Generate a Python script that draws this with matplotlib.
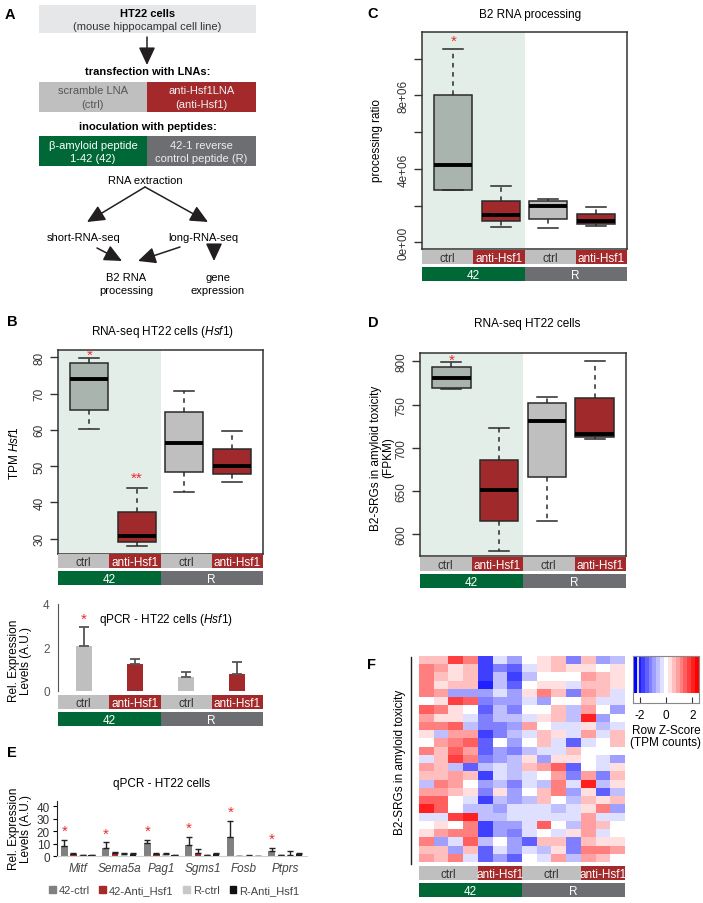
import matplotlib.pyplot as plt
import numpy as np
from matplotlib.colors import LinearSegmentedColormap
from matplotlib.patches import Rectangle, Patch

plt.rcParams['font.family'] = ['Liberation Sans', 'DejaVu Sans']
plt.rcParams['mathtext.fontset'] = 'custom'
plt.rcParams['mathtext.rm'] = 'Liberation Sans'
plt.rcParams['mathtext.it'] = 'Liberation Sans:italic'

# ---- data ----
conds = ['ctrl', 'anti-Hsf1', 'ctrl', 'anti-Hsf1']
peptides = ['42', '42', 'R', 'R']

# B: TPM Hsf1 (box stats)
b_med = [73.9, 30.8, 56.5, 50.0]
b_q1 = [65.5, 29.0, 48.5, 47.8]
b_q3 = [78.5, 37.4, 64.8, 54.8]
b_lo = [60.2, 28.0, 43.0, 45.7]
b_hi = [79.9, 44.0, 70.6, 59.8]
b_stars = ['*', '**', '', '']

# B: qPCR Hsf1
q_mean = [2.08, 1.23, 0.66, 0.78]
q_err = [0.87, 0.26, 0.23, 0.56]

# C: B2 processing ratio (x1e6)
c_med = [4.2, 1.49, 2.0, 1.18]
c_q1 = [2.86, 1.14, 1.29, 1.0]
c_q3 = [8.0, 2.26, 2.26, 1.56]
c_lo = [2.86, 0.82, 0.8, 0.87]
c_hi = [10.5, 3.06, 2.36, 1.94]

# D: B2-SRGs FPKM
d_med = [780.3, 651.0, 730.5, 716.2]
d_q1 = [769.5, 615.8, 666.4, 712.7]
d_q3 = [793.4, 686.5, 751.4, 757.5]
d_lo = [768.0, 580.7, 615.8, 710.0]
d_hi = [798.8, 722.8, 759.1, 800.0]

# E: qPCR genes
genes = ['Mitf', 'Sema5a', 'Pag1', 'Sgms1', 'Fosb', 'Ptprs']
e_series = ['42-ctrl', '42-Anti_Hsf1', 'R-ctrl', 'R-Anti_Hsf1']
e_42ctrl = [8.0, 6.9, 10.4, 9.1, 15.7, 4.5]
e_42ctrl_err = [5.3, 4.3, 2.9, 6.6, 12.8, 2.4]
e_42anti = [1.9, 2.7, 1.6, 2.7, 0.3, 1.1]
e_42anti_err = [0.8, 1.0, 0.8, 2.9, 0.1, 0.2]
e_rctrl = [1.1, 2.1, 1.6, 1.1, 0.6, 0.8]
e_rctrl_err = [0.2, 0.6, 0.8, 0.2, 0.5, 3.7]
e_ranti = [1.1, 1.6, 1.1, 1.6, 0.3, 1.6]
e_ranti_err = [0.2, 0.8, 0.1, 0.8, 0.1, 0.8]

# F: heatmap row z-scores (25 genes x 14 samples)
hm_conds = ['ctrl'] * 4 + ['anti-Hsf1'] * 3 + ['ctrl'] * 4 + ['anti-Hsf1'] * 3
hm_peptides = ['42'] * 7 + ['R'] * 7
hm = np.array([
    [0.7, 0.7, 1.8, 1.2, -1.7, -0.4, -1.0, 0.0, 0.4, 0.7, -1.3, 0.7, -0.9, -0.6],
    [1.3, 1.0, 0.4, 0.7, -1.8, -1.2, -1.5, -0.3, 0.4, 0.6, 0.4, 0.4, 0.0, 0.3],
    [1.3, 0.7, 0.4, 0.7, -1.8, -0.7, -1.9, -0.6, 0.0, 0.0, 0.0, 1.0, 0.7, 0.3],
    [1.3, 0.4, 0.7, 0.7, -2.2, -0.7, -1.5, 0.0, 0.3, 0.3, -0.4, 0.6, 0.6, 0.3],
    [1.3, 1.0, -1.0, -1.0, -1.0, -0.4, -0.9, 0.4, 1.3, 0.6, -1.2, 1.0, 0.7, -0.3],
    [0.0, 0.4, 1.8, 1.6, -1.3, -0.9, -0.9, -0.3, -0.9, 0.0, 0.0, 0.6, -0.3, -0.3],
    [1.6, 1.3, 0.4, 0.0, -1.5, -0.7, -1.1, 0.0, 0.0, 0.6, -0.6, 1.0, 0.0, -0.9],
    [1.0, 0.4, 0.4, -0.3, -1.2, -0.7, -0.6, -0.3, 0.3, 0.6, -0.6, 2.2, -1.0, 0.0],
    [1.3, 1.3, 1.5, -0.6, -1.2, -1.2, -0.9, 1.0, 0.0, -0.3, -0.3, 0.4, -0.6, -0.3],
    [0.3, -0.6, 1.0, 1.0, -1.7, -1.2, -0.6, -0.3, 0.7, 0.3, -0.3, 0.9, -0.3, 0.7],
    [0.0, 0.9, 1.3, 1.5, -1.4, 0.0, -0.9, 0.0, 0.7, -0.3, -1.5, -0.3, 0.0, 0.6],
    [1.2, 0.6, 1.5, 0.9, -1.4, -0.9, -1.1, -0.6, -0.3, -0.3, 0.6, 0.0, 0.0, 0.0],
    [-0.3, 0.6, 1.9, 1.3, -1.2, -0.9, -0.6, 0.3, -0.9, 0.3, 0.3, 0.0, -0.3, -0.9],
    [0.9, 0.6, -0.6, -1.4, -0.6, -0.3, -0.6, 0.6, 0.9, 1.5, -1.6, 0.0, -0.3, 0.3],
    [0.6, 0.6, 0.9, 0.6, -1.8, -0.3, -0.6, -0.3, 0.0, 0.9, -1.2, 1.0, -1.2, 0.6],
    [-0.6, 1.2, 0.9, 0.0, -0.9, -0.6, -1.1, -0.3, -0.6, 1.2, -0.3, 2.0, -0.6, 0.4],
    [1.0, 1.0, 0.7, 0.4, -1.2, 0.4, -0.9, 0.0, 0.5, 1.2, -0.9, 0.4, -1.6, -0.5],
    [1.5, 1.5, 0.0, -0.3, -1.8, -0.6, -0.9, -0.6, 0.6, 0.0, -0.6, 0.6, 0.4, 0.6],
    [2.2, 1.5, 0.0, -0.6, -0.6, -0.8, -0.4, -0.4, -0.4, -0.6, -0.3, 0.4, 1.3, -0.8],
    [-0.4, -0.4, 1.9, 2.1, -0.6, -0.6, -0.4, -0.4, -0.4, -0.4, -0.3, 0.9, -0.3, -0.3],
    [0.0, 0.4, 0.0, 1.3, -1.8, -0.9, -0.9, -0.4, 1.5, 0.0, -0.5, 0.9, 0.6, 0.0],
    [0.4, 0.9, 1.2, 1.2, -1.7, -0.9, -1.3, -0.3, 0.0, -0.3, 0.3, 0.9, -0.3, 0.0],
    [1.2, -0.9, -0.3, 1.5, -0.6, 0.0, -0.9, -1.5, 0.6, 0.6, -1.2, 0.6, 0.4, 0.4],
    [0.7, 0.7, -0.9, 0.6, -1.4, -0.4, -0.9, -0.3, -0.6, 0.4, -1.2, 1.2, 1.2, 0.9],
    [0.9, 0.6, 1.2, -0.3, -1.4, -0.9, -1.5, 0.0, -0.3, 0.9, -0.6, 1.0, 0.6, 0.0],
])

# ---- styling ----
GREY = '#bfbfbf'
RED = '#a3292b'
GREEN = '#006837'
DGREY = '#6d6e71'
SHADE = '#e3eee8'
BOX_COLS = ['#a9b4af', '#a0292b', '#bfbfbf', '#a0292b']
STRIP_COL = {'ctrl': GREY, 'anti-Hsf1': RED, '42': GREEN, 'R': DGREY}
STRIP_TXT = {'ctrl': '#333333', 'anti-Hsf1': 'white', '42': 'white', 'R': 'white'}
STAR = '#ee2a2a'

W, H = 703, 904
fig = plt.figure(figsize=(W / 100, H / 100), dpi=100)


def add_ax(x0, y0, x1, y1):
    # pixel box (top-left origin) -> figure axes
    return fig.add_axes([x0 / W, 1 - y1 / H, (x1 - x0) / W, (y1 - y0) / H])


def strips(x0, x1, y0, cond, group):
    for names, y in [(cond, y0), (group, y0 + 17)]:
        ax = add_ax(x0, y, x1, y + 14)
        n = len(names)
        ax.set_xlim(0, n)
        ax.set_ylim(0, 1)
        ax.axis('off')
        start = 0
        for i in range(1, n + 1):
            if i == n or names[i] != names[start]:
                lab = names[start]
                ax.bar(start, 1, width=i - start, align='edge', color=STRIP_COL[lab], lw=0)
                ax.text((start + i) / 2, 0.45, lab, ha='center', va='center',
                        color=STRIP_TXT[lab], fontsize=8.5)
                start = i


def boxpanel(box, med, q1, q3, lo, hi, ylim):
    ax = add_ax(*box)
    stats = [dict(med=m, q1=a, q3=b, whislo=l, whishi=h)
             for m, a, b, l, h in zip(med, q1, q3, lo, hi)]
    ax.axvspan(0.34, 2.5, color=SHADE, lw=0, zorder=0)
    bp = ax.bxp(stats, positions=[1, 2, 3, 4], widths=0.8, capwidths=0.42,
                patch_artist=True, showfliers=False,
                boxprops=dict(edgecolor='#2a2a2a', lw=1.1),
                whiskerprops=dict(color='#2a2a2a', lw=1.1, ls=(0, (3, 3))),
                capprops=dict(color='#2a2a2a', lw=1.1),
                medianprops=dict(color='black', lw=2.8))
    for patch, c in zip(bp['boxes'], BOX_COLS):
        patch.set_facecolor(c)
    ax.set_xlim(0.34, 4.66)
    ax.set_ylim(ylim)
    ax.set_xticks([])
    for s in ax.spines.values():
        s.set_color('#333333')
        s.set_linewidth(1.1)
    ax.tick_params(axis='y', length=6, width=1, color='#333333', labelsize=8.5,
                   labelcolor='#333333', pad=3)
    return ax


# ---- B boxplot ----
axb = boxpanel((58, 351, 263, 555), b_med, b_q1, b_q3, b_lo, b_hi, (25.8, 82.0))
axb.set_yticks([30, 40, 50, 60, 70, 80])
axb.set_yticklabels(['30', '40', '50', '60', '70', '80'], rotation=90, va='center')
for i, s in enumerate(b_stars):
    if s:
        axb.annotate(s, (i + 1, b_hi[i]), xytext=(0, -3 if s == '*' else 2),
                     textcoords='offset points', ha='center', va='bottom',
                     color=STAR, fontsize=11)
strips(58, 263, 555, conds, peptides)

# ---- B qPCR ----
axq = add_ax(58, 605, 263, 692)
axq.set_facecolor('none')
qcols = [GREY, RED, GREY, RED]
axq.bar(np.arange(4) + 0.5, q_mean, width=0.31, color=qcols, lw=0)
axq.errorbar(np.arange(4) + 0.5, q_mean, yerr=[np.zeros(4), q_err], fmt='none',
             ecolor='#555555', elinewidth=1.3, capsize=3.5, capthick=1.3)
axq.set_xlim(0, 4)
axq.set_ylim(0, 4)
for k in ['top', 'right', 'bottom']:
    axq.spines[k].set_visible(False)
axq.spines['left'].set_color('#555555')
axq.set_xticks([])
axq.set_yticks([0, 2, 4])
axq.tick_params(axis='y', length=0, labelsize=8.5, labelcolor='#555555', pad=6)
axq.annotate('*', (0.5, q_mean[0] + q_err[0]), xytext=(0, 1), textcoords='offset points',
             ha='center', va='bottom', color=STAR, fontsize=11)
strips(58, 263, 696, conds, peptides)

# ---- C ----
axc = boxpanel((422, 33, 627, 250), c_med, c_q1, c_q3, c_lo, c_hi, (-0.36, 11.45))
axc.set_yticks([0, 4, 8])
axc.set_yticklabels(['0e+00', '4e+06', '8e+06'], rotation=90, va='center')
axc.set_yticks([2, 6, 10], minor=True)
axc.tick_params(axis='y', which='minor', length=6, width=1, color='#333333')
axc.annotate('*', (1, c_hi[0]), xytext=(0, 1), textcoords='offset points',
             ha='center', va='bottom', color=STAR, fontsize=11)
strips(422, 627, 251, conds, peptides)

# ---- D ----
axd = boxpanel((420, 354, 626, 557), d_med, d_q1, d_q3, d_lo, d_hi, (574.9, 809.7))
axd.set_yticks([600, 650, 700, 750, 800])
axd.set_yticklabels(['600', '650', '700', '750', '800'], rotation=90, va='center')
axd.annotate('*', (1, d_hi[0]), xytext=(0, -3), textcoords='offset points',
             ha='center', va='bottom', color=STAR, fontsize=11)
strips(420, 626, 558, conds, peptides)

# ---- E ----
axe = add_ax(57, 801.7, 307, 857.3)
axe.set_facecolor('none')
e_vals = [e_42ctrl, e_42anti, e_rctrl, e_ranti]
e_errs = [e_42ctrl_err, e_42anti_err, e_rctrl_err, e_ranti_err]
e_cols = ['#808080', '#a52a2a', '#c8c8c8', '#111111']
xg = np.arange(len(genes))
for j in range(4):
    xs = xg + (j - 1.5) * 0.22
    axe.bar(xs, e_vals[j], width=0.16, color=e_cols[j], lw=0, label=e_series[j])
    axe.errorbar(xs, e_vals[j], yerr=[np.zeros(len(genes)), e_errs[j]], fmt='none',
                 ecolor='#222222', elinewidth=1, capsize=2.2, capthick=1)
for i in range(len(genes)):
    axe.annotate('*', (xg[i] - 1.5 * 0.22, e_42ctrl[i] + e_42ctrl_err[i]),
                 xytext=(0, 1), textcoords='offset points',
                 ha='center', va='bottom', color=STAR, fontsize=11)
axe.set_xlim(-0.506, 5.52)
axe.set_ylim(0, 44.4)
axe.spines['top'].set_visible(False)
axe.spines['right'].set_visible(False)
axe.spines['bottom'].set_color('#d0d0d0')
axe.spines['left'].set_color('#222222')
axe.set_yticks([0, 10, 20, 30, 40])
axe.tick_params(axis='y', length=3, labelsize=8.5, labelcolor='#333333', pad=2)
axe.set_xticks(xg)
axe.set_xticklabels(genes, style='italic', fontsize=8.5, color='#444444')
axe.tick_params(axis='x', length=0, pad=4)
handles = [Patch(color=c) for c in e_cols]
fig.legend(handles, e_series, loc='center', bbox_to_anchor=(174 / W, 1 - 891 / H),
           ncol=4, frameon=False, fontsize=8, handlelength=0.6, handleheight=0.6,
           handletextpad=0.25, columnspacing=0.9, labelcolor='#444444')

# ---- F heatmap ----
cmap = LinearSegmentedColormap.from_list('bwr_key', ['#0000ff', '#ffffff', '#ff0000'], N=17)
axf = add_ax(419, 657, 625, 863)
axf.imshow(hm, cmap=cmap, vmin=-2.5, vmax=2.5, aspect='auto', interpolation='nearest')
axf.axis('off')
strips(419, 625, 867, hm_conds, hm_peptides)

axk = add_ax(633, 657, 699, 704)
axk.imshow(np.linspace(-2.5, 2.5, 17)[None, :], cmap=cmap, vmin=-2.5, vmax=2.5,
           extent=(-2.5, 2.5, 0.22, 1), aspect='auto', interpolation='nearest')
axk.axvline(-2.12, ymin=0.22, ymax=1, color='white', lw=1.2)
axk.set_xlim(-2.5, 2.5)
axk.set_ylim(0, 1)
axk.set_yticks([])
axk.set_xticks([-2, 0, 2])
axk.set_xticklabels(['-2', '0', '2'])
axk.tick_params(axis='x', direction='in', length=4, labelsize=8.5, pad=4, color='#333333')
for s in axk.spines.values():
    s.set_color('#888888')

# ---- canvas for flowchart and free text (drawn on top) ----
cv = add_ax(0, 0, W, H)
cv.set_xlim(0, W)
cv.set_ylim(H, 0)
cv.axis('off')

# panel letters
for lab, x, y in [('A', 10, 15), ('B', 12, 322), ('C', 373, 14), ('D', 373, 323),
                  ('E', 12, 753), ('F', 372, 665)]:
    cv.text(x, y, lab, fontsize=10.5, fontweight='bold', ha='center', va='center')

# A: flowchart
fs = 8
cv.add_patch(Rectangle((39, 6), 217, 28, color='#e6e7e8', lw=0))
cv.text(147.5, 14, 'HT22 cells', fontsize=fs, fontweight='bold', ha='center', va='center')
cv.text(147.5, 27, '(mouse hippocampal cell line)', fontsize=fs, ha='center', va='center',
        color='#333333')
cv.text(147.5, 72, 'transfection with LNAs:', fontsize=fs, fontweight='bold',
        ha='center', va='center')
cv.add_patch(Rectangle((39, 83), 108, 30, color=GREY, lw=0))
cv.add_patch(Rectangle((147, 83), 109, 30, color=RED, lw=0))
cv.text(93, 91, 'scramble LNA', fontsize=fs, ha='center', va='center', color='#555555')
cv.text(93, 105, '(ctrl)', fontsize=fs, ha='center', va='center', color='#555555')
cv.text(201.5, 91, 'anti-Hsf1LNA', fontsize=fs, ha='center', va='center', color='#f2f2f2')
cv.text(201.5, 105, '(anti-Hsf1)', fontsize=fs, ha='center', va='center', color='#f2f2f2')
cv.text(147.5, 127, 'inoculation with peptides:', fontsize=fs, fontweight='bold',
        ha='center', va='center')
cv.add_patch(Rectangle((39, 137), 108, 30, color=GREEN, lw=0))
cv.add_patch(Rectangle((147, 137), 109, 30, color=DGREY, lw=0))
cv.text(93, 146, 'β-amyloid peptide', fontsize=fs, ha='center', va='center', color='white')
cv.text(93, 159, '1-42 (42)', fontsize=fs, ha='center', va='center', color='white')
cv.text(201.5, 146, '42-1 reverse', fontsize=fs, ha='center', va='center', color='#eeeeee')
cv.text(201.5, 159, 'control peptide (R)', fontsize=fs, ha='center', va='center',
        color='#eeeeee')
cv.text(145, 181, 'RNA extraction', fontsize=fs, ha='center', va='center')
cv.text(84, 238, 'short-RNA-seq', fontsize=fs, ha='center', va='center')
cv.text(203, 238, 'long-RNA-seq', fontsize=fs, ha='center', va='center')
cv.text(126, 278, 'B2 RNA', fontsize=fs, ha='center', va='center')
cv.text(126, 291.5, 'processing', fontsize=fs, ha='center', va='center')
cv.text(218, 278, 'gene', fontsize=fs, ha='center', va='center')
cv.text(218, 291.5, 'expression', fontsize=fs, ha='center', va='center')
arrows = [((147, 38), (147, 66)), ((145, 188), (87, 223)), ((145, 188), (208, 223)),
          ((97, 249), (122, 262)), ((180, 248), (138, 262)), ((214, 251), (214, 262))]
for (x1, y1), (x2, y2) in arrows:
    cv.annotate('', xy=(x2, y2), xytext=(x1, y1),
                arrowprops=dict(arrowstyle='-|>,head_length=0.9,head_width=0.42',
                                color='#231f20', lw=1.1, shrinkA=0, shrinkB=0,
                                mutation_scale=12))

# titles and axis labels
cv.text(162, 332, 'RNA-seq HT22 cells ($\\mathit{Hsf1}$)', fontsize=8.5, ha='center',
        va='center')
cv.text(14, 453, 'TPM $\\mathit{Hsf1}$', fontsize=8.5, ha='center', va='center', rotation=90)
cv.text(166, 620, 'qPCR - HT22 cells ($\\mathit{Hsf1}$)', fontsize=8.5, ha='center',
        va='center')
cv.text(20, 661, 'Rel. Expression\nLevels (A.U.)', fontsize=8.5, ha='center', va='center',
        rotation=90, linespacing=1.1)
cv.text(530, 15, 'B2 RNA processing', fontsize=8.5, ha='center', va='center')
cv.text(377, 140, 'processing ratio', fontsize=8.5, ha='center', va='center', rotation=90)
cv.text(527, 324, 'RNA-seq HT22 cells', fontsize=8.5, ha='center', va='center')
cv.text(382, 458, 'B2-SRGs in amyloid toxicity\n(FPKM)', fontsize=8.5, ha='center',
        va='center', rotation=90, linespacing=1.1)
cv.text(162, 784, 'qPCR - HT22 cells', fontsize=8.5, ha='center', va='center')
cv.text(20, 829, 'Rel. Expression\nLevels (A.U.)', fontsize=8.5, ha='center', va='center',
        rotation=90, linespacing=1.1)
cv.plot([411, 411], [658, 865], color='#222222', lw=1)
cv.text(400, 762, 'B2-SRGs in amyloid toxicity', fontsize=8.5, ha='center', va='center',
        rotation=90)
cv.text(666, 731, 'Row Z-Score', fontsize=8.5, ha='center', va='center')
cv.text(666, 743, '(TPM counts)', fontsize=8.5, ha='center', va='center')

fig.savefig('out.png', dpi=100)
